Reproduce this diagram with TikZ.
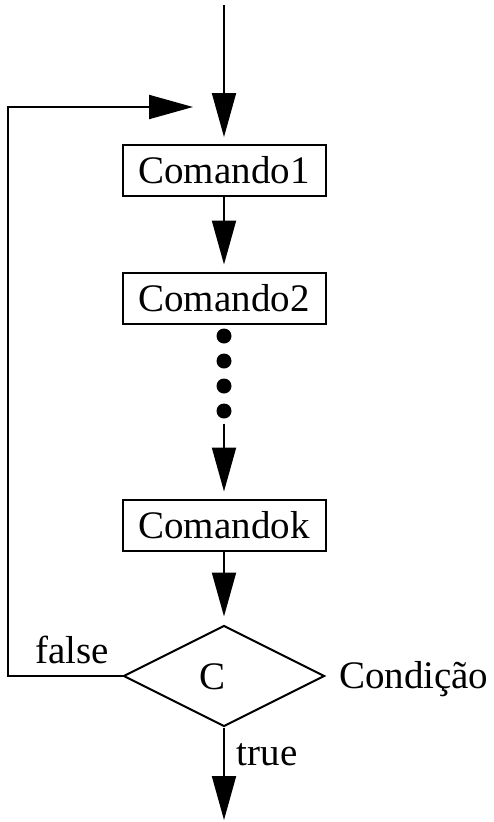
\documentclass[tikz,border=0pt]{standalone}
\usepackage{fontspec}
\setmainfont{Liberation Serif}
\usetikzlibrary{arrows.meta,shapes.geometric}
\begin{document}
\begin{tikzpicture}[x=1pt,y=-1pt,
  line width=2pt,
  flow/.style={-{Triangle[length=44pt,width=24pt]}},
  box/.style={draw,line width=2pt,minimum width=203pt,minimum height=51pt,inner sep=0pt,font=\fontsize{39}{46}\selectfont},
  dotn/.style={circle,fill,inner sep=0pt,minimum size=15pt},
  cond/.style={diamond,draw,line width=2pt,inner sep=0pt,minimum width=201pt,minimum height=101pt},
  lbl/.style={font=\fontsize{39}{46}\selectfont,inner sep=0pt}]
\useasboundingbox (0,0) rectangle (494,822);
\coordinate (start) at (224,5);
\node[box] (c1) at (224,170.5) {Comando1};
\node[box] (c2) at (224,298) {Comando2};
\node[dotn] (d1) at (224,336) {};
\node[dotn] (d2) at (224,361) {};
\node[dotn] (d3) at (224,386) {};
\node[dotn] (d4) at (224,411) {};
\node[box] (ck) at (224,525) {Comandok};
\node[cond] (dec) at (224,676) {};
\node[lbl] (cl) at (213,677) {C};
\node[lbl,anchor=base west] (condl) at (338,688) {Condição};
\node[lbl,anchor=base] (falsel) at (72,663) {false};
\node[lbl,anchor=base] (truel) at (267,765) {true};
\coordinate (end) at (224,820);
\coordinate (lb) at (8,676);
\coordinate (lt) at (8,107);
\coordinate (lin) at (193,107);
\draw[flow,shorten >=7pt] (start) -- (c1.north);
\draw[flow,shorten >=7pt] (c1.south) -- (c2.north);
\draw[flow,shorten >=7pt,shorten <=4pt] (d4.south) -- (ck.north);
\draw[flow,shorten >=8pt] (ck.south) -- (dec.north);
\draw[flow] (dec.south) -- (end);
\draw[flow] (dec.west) -- (lb) -- (lt) -- (lin);
\end{tikzpicture}
\end{document}
